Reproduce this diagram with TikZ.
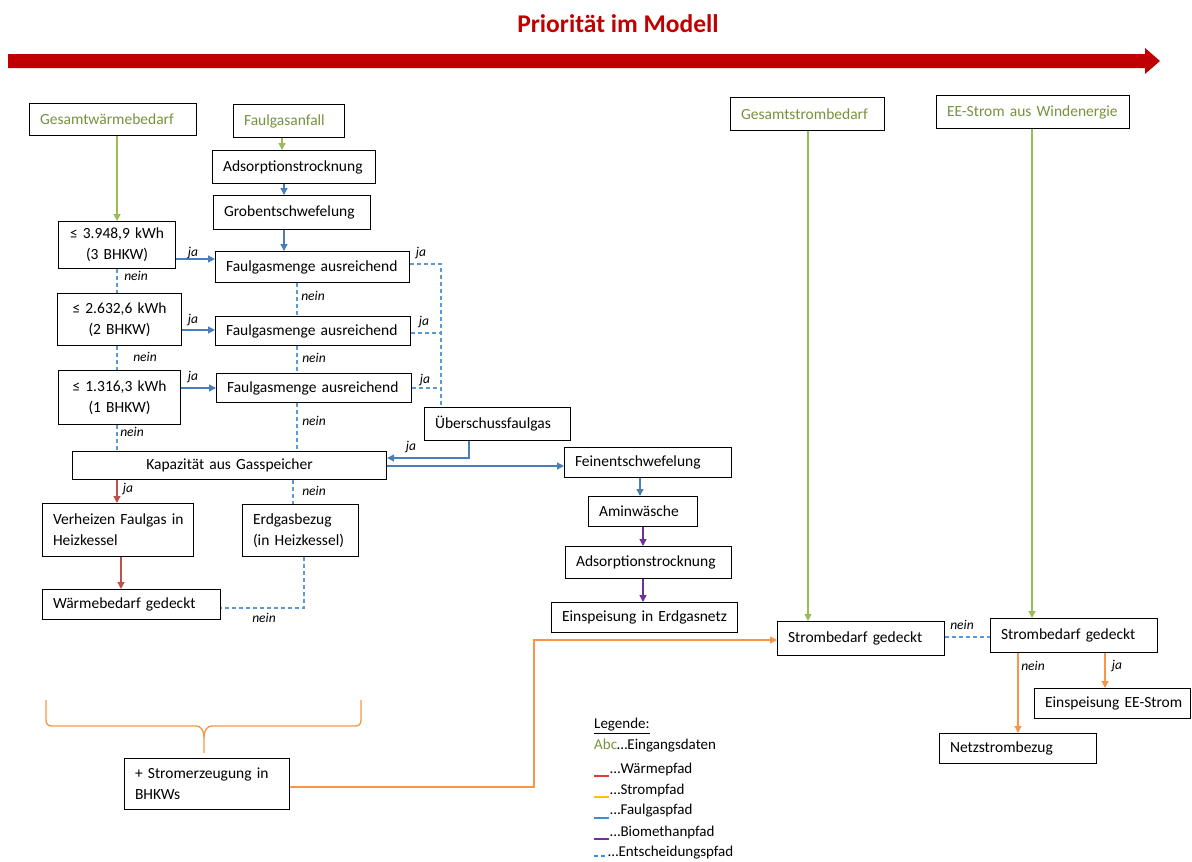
\documentclass[tikz,border=0pt]{standalone}
\usepackage{fontspec}
\setmainfont{Carlito}
\newfontfamily\symfont{DejaVu Sans}
\usetikzlibrary{arrows.meta}
\definecolor{prio}{HTML}{C00000}
\definecolor{ingreen}{HTML}{76923C}
\definecolor{lgreen}{HTML}{9BBB59}
\definecolor{gasblue}{HTML}{4A7EBB}
\definecolor{decblue}{HTML}{5B9BD5}
\definecolor{heatred}{HTML}{C0504D}
\definecolor{powor}{HTML}{F79646}
\definecolor{biopurple}{HTML}{7030A0}
\definecolor{legred}{HTML}{E03C31}
\definecolor{legyellow}{HTML}{FFC000}
\definecolor{legblue}{HTML}{3A8FD9}
% less-or-equal sign, taken from DejaVu Sans if the main font lacks it
\newcommand\leqsign{\iffontchar\font"2264 \char"2264\else{\symfont\char"2264}\fi}

\begin{document}
\begin{tikzpicture}[x=1pt,y=-1pt,
  every node/.style={font=\fontsize{15.5}{21}\selectfont},
  box/.style={draw=black, line width=1.1pt, anchor=north west, inner xsep=10.5pt,
    inner ysep=0pt, align=left},
  inbox/.style={box, text=ingreen},
  lbl/.style={font=\fontsize{13.5}{15}\selectfont\itshape, inner sep=0pt},
  legtxt/.style={font=\fontsize{15}{18}\selectfont, anchor=west, inner sep=0pt},
  tip/.style={-{Triangle[length=7pt,width=7pt]}},
  garr/.style={tip, lgreen, line width=1.3pt},
  barr/.style={tip, gasblue, line width=1.3pt},
  rarr/.style={tip, heatred, line width=1.3pt},
  parr/.style={tip, biopurple, line width=1.3pt},
  oarr/.style={tip, powor, line width=1.3pt},
  oline/.style={powor, line width=1.3pt},
  dec/.style={decblue, dash pattern=on 4pt off 3pt, line width=1.1pt}
]
\useasboundingbox (0,0) rectangle (1192,862);

% priority arrow and title
\fill[prio] (8,54) -- (1145,54) -- (1145,48) -- (1160,61) -- (1145,74) -- (1145,68) -- (8,68) -- cycle;
\node[font=\bfseries\fontsize{25.5}{30}\selectfont, text=prio, anchor=base] (title) at (618,32) {Priorität im Modell};

% input data
\node[inbox, text width=146pt, minimum height=32pt] (gw) at (29,103) {\mbox{Gesamtwärmebedarf}};
\node[inbox, text width=90pt, minimum height=33pt] (fa) at (233,104) {\mbox{Faulgasanfall}};
\node[inbox, text width=133pt, minimum height=33pt] (gs) at (730,97) {\mbox{Gesamtstrombedarf}};
\node[inbox, text width=172pt, minimum height=33pt] (ee) at (936,95) {\mbox{EE-Strom aus Windenergie}};

% digester gas treatment
\node[box, text width=142pt, minimum height=33pt] (ad1) at (212,150) {\mbox{Adsorptionstrocknung}};
\node[box, text width=136pt, minimum height=34pt] (grob) at (213,195) {\mbox{Grobentschwefelung}};

% heat demand thresholds
\node[box, align=center, text width=96pt, minimum height=47pt] (k3) at (58,221) {\mbox{\leqsign{} 3.948,9 kWh}\\(3 BHKW)};
\node[box, align=center, text width=103pt, minimum height=52pt] (k2) at (57,293) {\mbox{\leqsign{} 2.632,6 kWh}\\(2 BHKW)};
\node[box, align=center, text width=101pt, minimum height=54pt] (k1) at (58,370) {\mbox{\leqsign{} 1.316,3 kWh}\\(1 BHKW)};

\node[box, text width=173pt, minimum height=31pt] (f1) at (215,251) {\mbox{Faulgasmenge ausreichend}};
\node[box, text width=174pt, minimum height=29pt] (f2) at (215,316) {\mbox{Faulgasmenge ausreichend}};
\node[box, text width=174pt, minimum height=29pt] (f3) at (216,373) {\mbox{Faulgasmenge ausreichend}};

\node[box, text width=125pt, minimum height=33pt] (ue) at (424,407) {\mbox{Überschussfaulgas}};
\node[box, align=center, text width=293pt, minimum height=28pt] (kap) at (72,451) {\mbox{Kapazität aus Gasspeicher}};

% biomethane line
\node[box, text width=146pt, minimum height=30pt] (fein) at (564,447) {\mbox{Feinentschwefelung}};
\node[box, text width=88pt, minimum height=30pt] (amin) at (588,496) {\mbox{Aminwäsche}};
\node[box, text width=145pt, minimum height=32pt] (ad2) at (565,546) {\mbox{Adsorptionstrocknung}};
\node[box, text width=165pt, minimum height=30pt] (ein) at (551,602) {\mbox{Einspeisung in Erdgasnetz}};

% heat supply
\node[box, text width=130pt, minimum height=53pt] (verh) at (42,503) {\mbox{Verheizen Faulgas in}\\\mbox{Heizkessel}};
\node[box, text width=95pt, minimum height=52pt] (erd) at (242,504) {\mbox{Erdgasbezug}\\\mbox{(in Heizkessel)}};
\node[box, text width=157pt, minimum height=30pt] (wg) at (42,589) {\mbox{Wärmebedarf gedeckt}};
\node[box, text width=144pt, minimum height=51pt] (bhkw) at (124,758) {\mbox{+ Stromerzeugung in}\\\mbox{BHKWs}};

% power balance
\node[box, text width=146pt, minimum height=34pt] (sg1) at (777,621) {\mbox{Strombedarf gedeckt}};
\node[box, text width=146pt, minimum height=34pt] (sg2) at (990,618) {\mbox{Strombedarf gedeckt}};
\node[box, text width=135pt, minimum height=30pt] (eee) at (1034,688) {\mbox{Einspeisung EE-Strom}};
\node[box, text width=136pt, minimum height=30pt] (netz) at (939,733) {\mbox{Netzstrombezug}};

% input arrows
\draw[garr] (gw.south -| k3.north) -- (k3.north);
\draw[garr] (fa.south -| 282,0) -- (ad1.north -| 282,0);
\draw[garr] (gs.south -| 808,0) -- (sg1.north -| 808,0);
\draw[garr] (ee.south -| 1032,0) -- (sg2.north -| 1032,0);

% digester gas path
\draw[barr] (ad1.south -| 284,0) -- (grob.north -| 284,0);
\draw[barr] (grob.south -| 284,0) -- (f1.north -| 284,0);
\draw[barr] (k3.east |- 0,259) -- (f1.west |- 0,259);
\draw[barr] (k2.east |- 0,330) -- (f2.west |- 0,330);
\draw[barr] (k1.east |- 0,388) -- (f3.west |- 0,388);
\draw[barr] (ue.south -| 469,0) |- (kap.east |- 0,458);
\draw[barr] (kap.east |- 0,466) -- (fein.west |- 0,466);
\draw[barr] (fein.south -| 640,0) -- (amin.north -| 640,0);

% biomethane path
\draw[parr] (amin.south -| 643,0) -- (ad2.north -| 643,0);
\draw[parr] (ad2.south -| 643,0) -- (ein.north -| 643,0);

% decision paths
\coordinate (m2) at (441,333);
\coordinate (m3) at (441,388);
\draw[dec] (f1.east |- 0,264) -| (ue.north -| 441,0);
\draw[dec] (f2.east |- m2) -- (m2);
\draw[dec] (f3.east |- m3) -- (m3);
\draw[dec] (k3.south -| 117,0) -- (k2.north -| 117,0);
\draw[dec] (k2.south -| 117,0) -- (k1.north -| 117,0);
\draw[dec] (k1.south -| 117,0) -- (kap.north -| 117,0);
\draw[dec] (f1.south -| 297,0) -- (f2.north -| 297,0);
\draw[dec] (f2.south -| 297,0) -- (f3.north -| 297,0);
\draw[dec] (f3.south -| 297,0) -- (kap.north -| 297,0);
\draw[dec] (kap.south -| 293,0) -- (erd.north -| 293,0);
\draw[dec] (erd.south -| 304,0) |- (wg.east |- 0,608);
\draw[dec] (sg1.east |- 0,637) -- (sg2.west |- 0,637);

% heat path
\draw[rarr] (kap.south -| 117,0) -- (verh.north -| 117,0);
\draw[rarr] (verh.south -| 121,0) -- (wg.north -| 121,0);

% power path
\draw[oarr] (sg2.south -| 1018,0) -- (netz.north -| 1018,0);
\draw[oarr] (sg2.south -| 1105,0) -- (eee.north -| 1105,0);
\coordinate (ob) at (534,640);
\draw[oarr] (bhkw.east |- 0,787) -| (ob) -- (sg1.west |- ob);

% brace over the heat section
\draw[oline] (46,700) -- (46,720) .. controls (46,724) and (48,726) .. (52,726) -- (196,726)
  .. controls (201,726) and (204,730) .. (204,738) -- (204,753);
\draw[oline] (204,738) .. controls (204,730) and (207,726) .. (212,726) -- (355,726)
  .. controls (359,726) and (361,724) .. (361,720) -- (361,700);

% branch labels
\node[lbl] (j1) at (193,253) {ja};
\node[lbl] (j2) at (193,320) {ja};
\node[lbl] (j3) at (193,377) {ja};
\node[lbl] (jr1) at (421,253) {ja};
\node[lbl] (jr2) at (424,322) {ja};
\node[lbl] (jr3) at (425,380) {ja};
\node[lbl] (n1) at (136,276) {nein};
\node[lbl] (n2) at (145,357) {nein};
\node[lbl] (n3) at (132,432) {nein};
\node[lbl] (nf1) at (313,296) {nein};
\node[lbl] (nf2) at (314,358) {nein};
\node[lbl] (nf3) at (314,421) {nein};
\node[lbl] (nk) at (314,491) {nein};
\node[lbl] (ne) at (264,618) {nein};
\node[lbl] (jk) at (128,489) {ja};
\node[lbl] (ju) at (411,447) {ja};
\node[lbl] (ns) at (962,625) {nein};
\node[lbl] (nn) at (1033,666) {nein};
\node[lbl] (js) at (1117,666) {ja};

% legend
\node[legtxt] (leg0) at (594,726) {\underline{Legende:}};
\node[legtxt] (leg1) at (594,746) {\textcolor{ingreen}{Abc}…Eingangsdaten};
\node[legtxt] (leg2) at (610,769) {…Wärmepfad};
\node[legtxt] (leg3) at (610,790) {…Strompfad};
\node[legtxt] (leg4) at (610,811) {…Faulgaspfad};
\node[legtxt] (leg5) at (610,832) {…Biomethanpfad};
\node[legtxt] (leg6) at (608,853) {…Entscheidungspfad};
\draw[legred, line width=1.2pt] (594,776) -- (609,776);
\draw[legyellow, line width=1.2pt] (594,797) -- (609,797);
\draw[legblue, line width=1.2pt] (594,818) -- (609,818);
\draw[biopurple, line width=1.2pt] (594,839) -- (609,839);
\draw[legblue, line width=1.1pt, dash pattern=on 4pt off 3pt] (594,856) -- (608,856);
\end{tikzpicture}
\end{document}
